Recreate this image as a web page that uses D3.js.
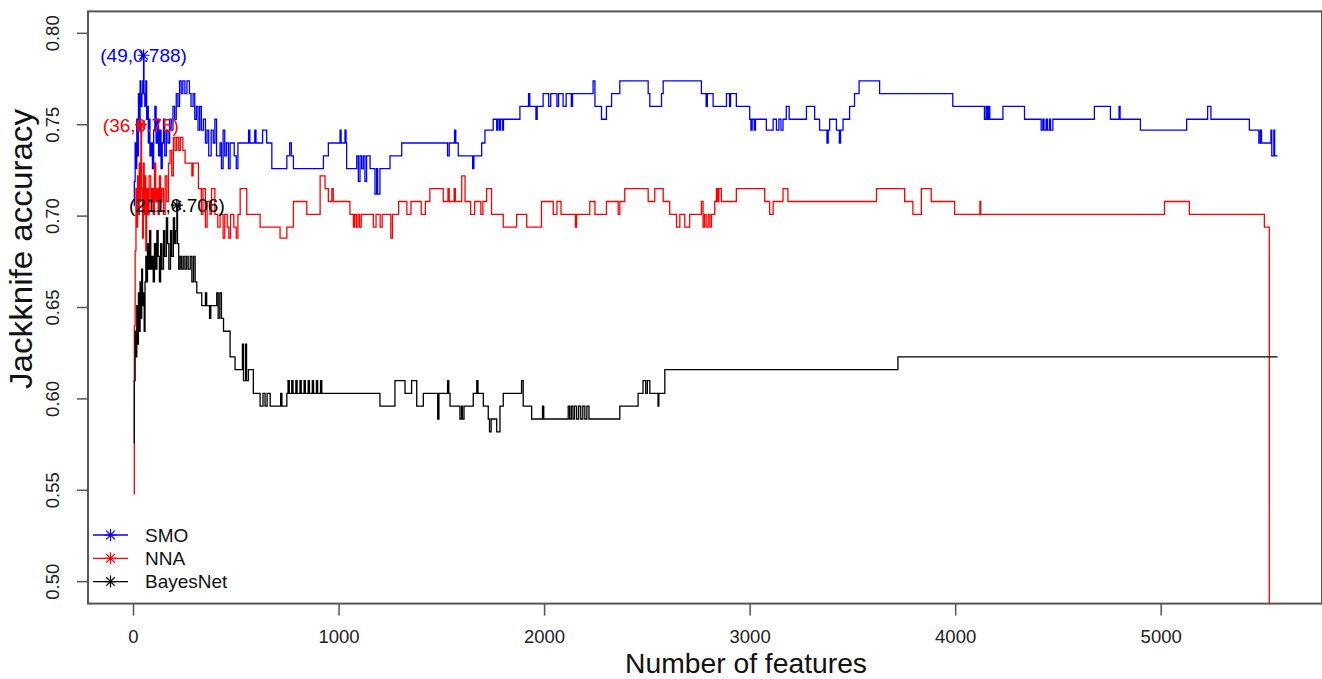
<!DOCTYPE html>
<html>
<head>
<meta charset="utf-8">
<script src="https://cdn.jsdelivr.net/npm/d3@7"></script>
<style>
  body { margin: 0; background: #fff; }
  svg { font-family: "Liberation Sans", Arial, sans-serif; }
</style>
</head>
<body>
<svg id="chart" width="1322" height="679"></svg>
<script>
// step change points: [number of features, jackknife accuracy]
const smo_steps = [
  [1,0.706],[4,0.719],[8,0.740],[12,0.726],[16,0.753],[20,0.733],[24,0.767],[28,0.747],[32,0.774],[36,0.760],
  [41,0.767],[45,0.774],[49,0.788],[51,0.767],[55,0.760],[60,0.774],[64,0.753],[68,0.760],[72,0.740],[76,0.753],
  [80,0.733],[86,0.740],[92,0.726],[98,0.747],[104,0.760],[110,0.740],[116,0.753],[122,0.733],[128,0.747],[134,0.726],
  [140,0.740],[146,0.753],[152,0.733],[160,0.747],[168,0.740],[176,0.753],[184,0.747],[192,0.760],[200,0.753],[208,0.767],
  [216,0.760],[224,0.774],[232,0.767],[240,0.774],[250,0.767],[260,0.774],[272,0.767],[280,0.760],[290,0.767],[298,0.753],
  [306,0.760],[314,0.747],[322,0.760],[330,0.747],[340,0.753],[350,0.740],[358,0.747],[366,0.733],[378,0.747],[388,0.740],
  [396,0.753],[404,0.733],[421,0.740],[428,0.726],[436,0.747],[444,0.733],[452,0.740],[462,0.726],[470,0.740],[490,0.733],
  [500,0.726],[508,0.740],[560,0.747],[566,0.740],[590,0.747],[596,0.740],[628,0.747],[648,0.740],[673,0.726],[746,0.733],
  [760,0.740],[768,0.733],[778,0.726],[924,0.733],[948,0.740],[1005,0.747],[1010,0.740],[1029,0.747],[1034,0.740],[1037,0.726],
  [1086,0.733],[1094,0.719],[1102,0.733],[1110,0.726],[1118,0.733],[1126,0.719],[1134,0.733],[1151,0.726],[1175,0.712],[1183,0.726],
  [1188,0.712],[1199,0.726],[1248,0.733],[1305,0.740],[1528,0.733],[1536,0.740],[1562,0.747],[1568,0.740],[1580,0.733],[1650,0.726],
  [1656,0.733],[1694,0.740],[1710,0.747],[1750,0.753],[1767,0.747],[1772,0.753],[1780,0.747],[1786,0.753],[1796,0.747],[1800,0.753],
  [1880,0.760],[1922,0.767],[1928,0.760],[1958,0.753],[1964,0.760],[1993,0.767],[2020,0.760],[2030,0.767],[2060,0.760],[2068,0.767],
  [2090,0.760],[2105,0.767],[2130,0.760],[2136,0.767],[2236,0.774],[2245,0.760],[2277,0.753],[2301,0.760],[2326,0.767],[2366,0.774],
  [2504,0.767],[2512,0.760],[2569,0.767],[2577,0.774],[2763,0.767],[2786,0.760],[2792,0.767],[2820,0.760],[2885,0.767],[2900,0.760],
  [2905,0.767],[2933,0.760],[2998,0.753],[3004,0.747],[3010,0.753],[3020,0.747],[3026,0.753],[3079,0.747],[3112,0.753],[3128,0.747],
  [3140,0.753],[3150,0.747],[3160,0.753],[3176,0.760],[3190,0.753],[3274,0.760],[3314,0.753],[3338,0.747],[3374,0.740],[3380,0.747],
  [3387,0.753],[3420,0.747],[3434,0.740],[3440,0.747],[3452,0.753],[3484,0.760],[3508,0.767],[3530,0.774],[3630,0.767],[3986,0.760],
  [4140,0.753],[4148,0.760],[4154,0.753],[4160,0.760],[4166,0.753],[4230,0.760],[4335,0.753],[4416,0.747],[4424,0.753],[4430,0.747],
  [4440,0.753],[4446,0.747],[4456,0.753],[4462,0.747],[4473,0.753],[4675,0.760],[4753,0.753],[4795,0.760],[4800,0.753],[4899,0.747],
  [5124,0.753],[5226,0.760],[5242,0.753],[5429,0.747],[5475,0.740],[5482,0.747],[5488,0.740],[5534,0.747],[5538,0.733],[5548,0.747],
  [5552,0.733],[5566,0.733]
];

const nna_steps = [
  [1,0.548],[4,0.640],[8,0.681],[12,0.715],[16,0.694],[20,0.722],[24,0.701],[28,0.729],[32,0.708],[36,0.750],
  [39,0.715],[44,0.688],[48,0.729],[52,0.701],[56,0.722],[60,0.681],[64,0.715],[70,0.701],[76,0.722],[84,0.708],
  [90,0.715],[96,0.701],[102,0.729],[108,0.708],[114,0.715],[120,0.701],[126,0.722],[132,0.708],[138,0.715],[146,0.701],
  [154,0.722],[162,0.708],[170,0.729],[178,0.736],[186,0.722],[194,0.743],[202,0.736],[210,0.743],[220,0.736],[228,0.743],
  [240,0.736],[251,0.729],[284,0.722],[290,0.729],[316,0.715],[330,0.701],[338,0.715],[350,0.694],[358,0.708],[372,0.701],
  [380,0.715],[396,0.701],[410,0.694],[421,0.701],[436,0.688],[444,0.701],[456,0.694],[464,0.688],[472,0.701],[488,0.694],
  [500,0.688],[508,0.701],[519,0.715],[551,0.701],[616,0.694],[713,0.688],[746,0.694],[778,0.708],[843,0.701],[908,0.722],
  [932,0.715],[948,0.708],[965,0.715],[972,0.708],[1053,0.701],[1070,0.694],[1076,0.701],[1084,0.694],[1092,0.701],[1100,0.694],
  [1108,0.701],[1167,0.694],[1180,0.701],[1200,0.694],[1210,0.701],[1252,0.688],[1260,0.701],[1290,0.708],[1330,0.701],[1350,0.708],
  [1400,0.701],[1420,0.708],[1442,0.715],[1507,0.708],[1530,0.715],[1536,0.708],[1560,0.715],[1566,0.708],[1597,0.722],[1613,0.708],
  [1640,0.701],[1660,0.708],[1690,0.701],[1700,0.708],[1718,0.715],[1742,0.701],[1799,0.694],[1864,0.701],[1913,0.694],[1985,0.708],
  [2042,0.701],[2060,0.708],[2080,0.701],[2150,0.694],[2156,0.701],[2220,0.708],[2245,0.701],[2301,0.708],[2358,0.701],[2366,0.708],
  [2390,0.715],[2504,0.708],[2536,0.715],[2577,0.708],[2609,0.701],[2642,0.694],[2658,0.701],[2682,0.694],[2706,0.701],[2763,0.708],
  [2771,0.694],[2778,0.701],[2786,0.694],[2796,0.701],[2804,0.694],[2812,0.701],[2828,0.708],[2836,0.715],[2842,0.708],[2848,0.715],
  [2860,0.708],[2933,0.715],[3071,0.708],[3095,0.701],[3112,0.708],[3160,0.715],[3184,0.708],[3615,0.715],[3752,0.708],[3792,0.701],
  [3833,0.715],[3881,0.708],[3995,0.701],[4118,0.708],[4122,0.701],[5016,0.708],[5137,0.701],[5502,0.694],[5526,0.400],[5566,0.400]
];

const bayes_steps = [
  [1,0.576],[4,0.610],[8,0.637],[12,0.623],[16,0.651],[20,0.630],[24,0.658],[28,0.637],[32,0.664],[36,0.644],
  [40,0.671],[44,0.651],[48,0.658],[52,0.637],[56,0.664],[60,0.678],[64,0.664],[68,0.685],[72,0.671],[78,0.692],
  [84,0.671],[90,0.678],[96,0.664],[102,0.685],[108,0.671],[114,0.692],[120,0.678],[126,0.664],[132,0.685],[138,0.671],
  [146,0.692],[152,0.678],[160,0.699],[166,0.685],[172,0.671],[180,0.692],[186,0.678],[194,0.699],[200,0.685],[206,0.692],
  [211,0.706],[214,0.685],[220,0.671],[227,0.678],[234,0.671],[242,0.678],[250,0.671],[258,0.678],[266,0.671],[276,0.678],
  [284,0.664],[292,0.678],[300,0.664],[308,0.658],[332,0.651],[350,0.658],[356,0.651],[370,0.644],[376,0.651],[405,0.658],
  [412,0.644],[420,0.658],[428,0.644],[438,0.637],[470,0.623],[494,0.616],[530,0.630],[535,0.610],[545,0.630],[550,0.610],
  [559,0.616],[583,0.603],[616,0.596],[630,0.603],[640,0.596],[650,0.603],[665,0.596],[716,0.603],[722,0.596],[746,0.603],
  [752,0.610],[758,0.603],[770,0.610],[776,0.603],[790,0.610],[796,0.603],[810,0.610],[816,0.603],[830,0.610],[836,0.603],
  [850,0.610],[856,0.603],[870,0.610],[876,0.603],[890,0.610],[896,0.603],[910,0.610],[916,0.603],[1199,0.596],[1272,0.610],
  [1321,0.603],[1353,0.610],[1378,0.596],[1410,0.603],[1480,0.589],[1486,0.603],[1528,0.610],[1534,0.603],[1540,0.596],[1588,0.589],
  [1596,0.596],[1600,0.589],[1608,0.596],[1653,0.603],[1670,0.610],[1676,0.603],[1702,0.596],[1726,0.589],[1732,0.582],[1740,0.589],
  [1767,0.582],[1783,0.596],[1799,0.603],[1888,0.610],[1896,0.596],[1937,0.589],[1990,0.596],[1996,0.589],[2115,0.596],[2122,0.589],
  [2130,0.596],[2138,0.589],[2146,0.596],[2156,0.589],[2166,0.596],[2176,0.589],[2186,0.596],[2196,0.589],[2206,0.596],[2216,0.589],
  [2366,0.596],[2455,0.603],[2479,0.610],[2492,0.603],[2500,0.610],[2512,0.603],[2552,0.596],[2556,0.603],[2585,0.616],[3719,0.623],
  [5566,0.623]
];

const series_names = ["SMO", "NNA", "BayesNet"];
const series_colors = ["#0000ff", "#ff0000", "#000000"];
const best_points = [[49, 0.788], [36, 0.75], [211, 0.706]];
const best_labels = ["(49,0.788)", "(36,0.75)", "(211,0.706)"];
const x_ticks = [0, 1000, 2000, 3000, 4000, 5000];
const y_ticks = [0.50, 0.55, 0.60, 0.65, 0.70, 0.75, 0.80];
const x_data_range = [1, 5560];
const y_limits = [0.5, 0.8];

function pad_range(r) {
  const p = (r[1] - r[0]) * 0.04;
  return [r[0] - p, r[1] + p];
}

function star_path(cx, cy, r) {
  const d = r * 0.72;
  return `M${cx - r},${cy}H${cx + r}M${cx},${cy - r}V${cy + r}` +
    `M${cx - d},${cy - d}L${cx + d},${cy + d}M${cx - d},${cy + d}L${cx + d},${cy - d}`;
}

function visualize() {
  const left = 88, top = 11.4, right = 1322, bottom = 603.6;
  const svg = d3.select("#chart");

  const x = d3.scaleLinear().domain(pad_range(x_data_range)).range([left, right]);
  const y = d3.scaleLinear().domain(pad_range(y_limits)).range([bottom, top]);

  svg.append("clipPath").attr("id", "plot-clip")
    .append("rect")
    .attr("x", left).attr("y", top)
    .attr("width", right - left).attr("height", bottom - top);

  const line_gen = d3.line()
    .x(d => x(d[0]))
    .y(d => y(d[1]))
    .curve(d3.curveStepAfter);

  const all_series = [smo_steps, nna_steps, bayes_steps];
  svg.append("g")
    .attr("clip-path", "url(#plot-clip)")
    .selectAll("path")
    .data(all_series).enter()
    .append("path")
    .attr("d", line_gen)
    .attr("fill", "none")
    .attr("stroke", (d, i) => series_colors[i])
    .attr("stroke-width", 1.3);

  // best points with labels
  const best = svg.append("g");
  best.selectAll("path")
    .data(best_points).enter()
    .append("path")
    .attr("d", d => star_path(x(d[0]), y(d[1]), 6))
    .attr("stroke", (d, i) => series_colors[i])
    .attr("stroke-width", 1.2)
    .attr("fill", "none");
  best.selectAll("text")
    .data(best_points).enter()
    .append("text")
    .attr("x", d => x(d[0]))
    .attr("y", d => y(d[1]))
    .attr("dy", "0.36em")
    .attr("text-anchor", "middle")
    .attr("font-size", 19)
    .attr("fill", (d, i) => series_colors[i])
    .text((d, i) => best_labels[i]);

  // frame and axes
  svg.append("rect")
    .attr("x", left).attr("y", top)
    .attr("width", right - left).attr("height", bottom - top)
    .attr("fill", "none")
    .attr("stroke", "#555")
    .attr("stroke-width", 2);

  const x_axis = svg.append("g");
  x_axis.selectAll("line")
    .data(x_ticks).enter()
    .append("line")
    .attr("x1", d => x(d)).attr("x2", d => x(d))
    .attr("y1", bottom).attr("y2", bottom + 12)
    .attr("stroke", "#555")
    .attr("stroke-width", 1.5);
  x_axis.selectAll("text")
    .data(x_ticks).enter()
    .append("text")
    .attr("x", d => x(d))
    .attr("y", 643)
    .attr("text-anchor", "middle")
    .attr("font-size", 18.5)
    .attr("fill", "#222")
    .text(d => d);

  const y_axis = svg.append("g");
  y_axis.selectAll("line")
    .data(y_ticks).enter()
    .append("line")
    .attr("x1", left - 11).attr("x2", left)
    .attr("y1", d => y(d)).attr("y2", d => y(d))
    .attr("stroke", "#555")
    .attr("stroke-width", 1.5);
  y_axis.selectAll("text")
    .data(y_ticks).enter()
    .append("text")
    .attr("transform", d => `translate(59,${y(d)}) rotate(-90)`)
    .attr("text-anchor", "middle")
    .attr("font-size", 18.5)
    .attr("fill", "#222")
    .text(d => d3.format(".2f")(d));

  svg.append("text")
    .attr("x", 746).attr("y", 673)
    .attr("text-anchor", "middle")
    .attr("font-size", 28)
    .attr("textLength", 242)
    .attr("lengthAdjust", "spacingAndGlyphs")
    .attr("fill", "#111")
    .text("Number of features");

  svg.append("text")
    .attr("transform", "translate(32,249) rotate(-90)")
    .attr("text-anchor", "middle")
    .attr("font-size", 31)
    .attr("textLength", 280)
    .attr("lengthAdjust", "spacingAndGlyphs")
    .attr("fill", "#111")
    .text("Jackknife accuracy");

  // legend
  const legend = svg.append("g")
    .selectAll("g")
    .data(series_names).enter()
    .append("g")
    .attr("transform", (d, i) => `translate(0,${535 + i * 23.3})`);
  legend.append("line")
    .attr("x1", 93).attr("x2", 128)
    .attr("stroke", (d, i) => series_colors[i])
    .attr("stroke-width", 1.3);
  legend.append("path")
    .attr("d", star_path(110.5, 0, 6))
    .attr("stroke", (d, i) => series_colors[i])
    .attr("stroke-width", 1.2)
    .attr("fill", "none");
  legend.append("text")
    .attr("x", 145)
    .attr("dy", "0.36em")
    .attr("font-size", 19)
    .attr("fill", "#111")
    .text(d => d);
}

visualize();
</script>
</body>
</html>
